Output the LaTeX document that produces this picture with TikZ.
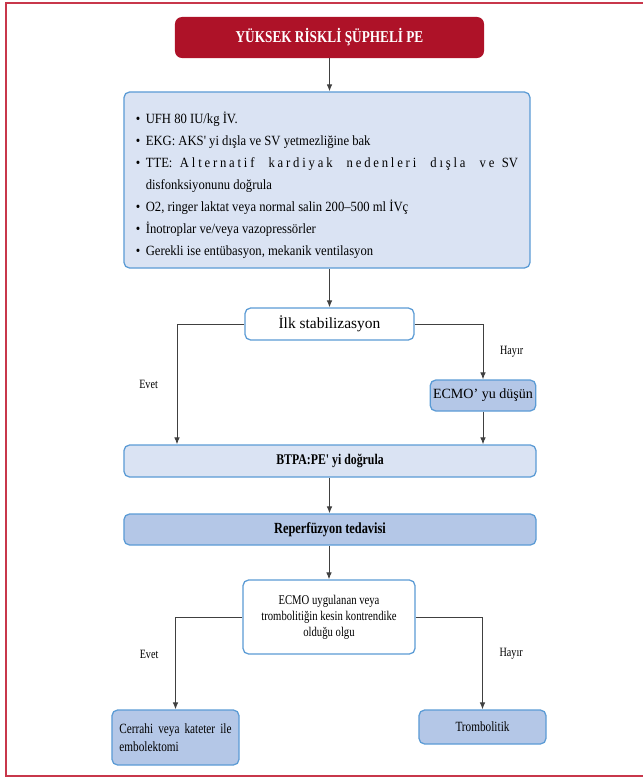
\documentclass[tikz,border=0pt]{standalone}
\usepackage{fontspec}
\setmainfont{Liberation Serif}
\newfontfamily\condfont[FakeStretch=0.8]{Liberation Serif}
\newfontfamily\listfont[FakeStretch=0.9]{Liberation Serif}
\usepackage{xcolor}
\usetikzlibrary{arrows.meta}

\definecolor{peRed}{HTML}{AE1228}
\definecolor{frameRed}{HTML}{C8374B}
\definecolor{boxLine}{HTML}{5B9BD5}
\definecolor{paleBlue}{HTML}{DAE3F3}
\definecolor{midBlue}{HTML}{B4C7E7}
\definecolor{arrowGray}{HTML}{404040}

\newcommand{\pebullet}[1]{\par\hangindent=0.7em\hangafter=1\noindent\makebox[0.7em][l]{\textbullet}#1}

\tikzset{
  box/.style={draw=boxLine, line width=0.9pt, rounded corners=4pt, align=center, inner sep=2pt},
  flow/.style={->, draw=arrowGray, line width=0.7pt},
  answer/.style={font=\condfont\fontsize{9}{11}\selectfont},
}

\begin{document}
\begin{tikzpicture}[x=0.025cm, y=-0.025cm, >={Latex[length=5pt,width=4pt]}]
\useasboundingbox (0,0) rectangle (643,778);
% Frame
\draw[frameRed, line width=0.8pt] (643,3) -- (6,3) -- (6,776) -- (643,776);

% Title
\node[fill=peRed, rounded corners=5pt, minimum width=7.725cm, minimum height=1.025cm, text=white, font=\condfont\bfseries\fontsize{11.8}{13}\selectfont] (title) at (329.5,37.5) {YÜKSEK RİSKLİ ŞÜPHELİ PE};

% First measures
\node[box, fill=paleBlue, text width=9.55cm, inner xsep=0.3cm, minimum height=4.4cm, align=justify, font=\listfont\fontsize{10}{15.6}\selectfont] (measures) at (327,180) {%
\pebullet{UFH 80 IU/kg İV.}
\pebullet{EKG: AKS' yi dışla ve SV yetmezliğine bak}
\pebullet{TTE: {\addfontfeatures{LetterSpace=20}Alternatif kardiyak nedenleri dışla ve} SV\linebreak disfonksiyonunu doğrula}
\pebullet{O2, ringer laktat veya normal salin 200–500 ml İVç}
\pebullet{İnotroplar ve/veya vazopressörler}
\pebullet{Gerekli ise entübasyon, mekanik ventilasyon}\par};

% Stabilisation
\node[box, fill=white, minimum width=4.225cm, minimum height=0.8cm, font=\fontsize{11}{13}\selectfont] (stab) at (329.5,324) {İlk stabilizasyon};
\node[box, fill=midBlue, minimum width=2.6cm, minimum height=0.775cm, font=\fontsize{10}{12}\selectfont] (ecmo) at (483,395.5) {ECMO' yu düşün};

% Confirm and treat
\node[box, fill=paleBlue, minimum width=10.3cm, minimum height=0.8cm, font=\condfont\bfseries\fontsize{10.5}{12}\selectfont] (btpa) at (330,461) {BTPA:PE' yi doğrula};
\node[box, fill=midBlue, minimum width=10.3cm, minimum height=0.775cm, font=\condfont\bfseries\fontsize{11}{13}\selectfont] (reper) at (330,529.5) {Reperfüzyon tedavisi};

% Decision
\node[box, fill=white, minimum width=4.3cm, minimum height=1.85cm, font=\condfont\fontsize{9.5}{11.4}\selectfont] (case) at (329,617) {ECMO uygulanan veya\\trombolitiğin kesin kontrendike\\olduğu olgu};
\node[box, fill=midBlue, minimum width=3.175cm, minimum height=1.375cm, text width=2.8cm, align=justify, font=\condfont\fontsize{10}{12.5}\selectfont] (surgery) at (175.5,737.5) {Cerrahi veya kateter ile\linebreak embolektomi};
\node[box, fill=midBlue, minimum width=3.175cm, minimum height=0.85cm, font=\condfont\fontsize{10}{12}\selectfont] (lysis) at (482.5,727) {Trombolitik};

% Connectors
\coordinate (yesA) at (177,0);
\draw[flow] (title.south) -- (title.south |- measures.north);
\draw[flow] (measures.south -| stab.north) -- (stab.north);
\draw[flow] (stab.west) -| node[answer, pos=0.75, left=0.35cm] (yesAlbl) {Evet} (yesA |- btpa.north);
\draw[flow] (stab.east) -| node[answer, pos=0.75, right=0.3cm] (noAlbl) {Hayır} (ecmo.north);
\draw[flow] (ecmo.south) -- (ecmo.south |- btpa.north);
\draw[flow] (btpa.south -| stab.north) -- (reper.north -| stab.north);
\draw[flow] (reper.south -| case.north) -- (case.north);
\draw[flow] (case.west) -| node[answer, pos=0.7, left=0.3cm] (yesBlbl) {Evet} (surgery.north);
\draw[flow] (case.east) -| node[answer, pos=0.7, right=0.3cm] (noBlbl) {Hayır} (lysis.north);
\end{tikzpicture}
\end{document}
